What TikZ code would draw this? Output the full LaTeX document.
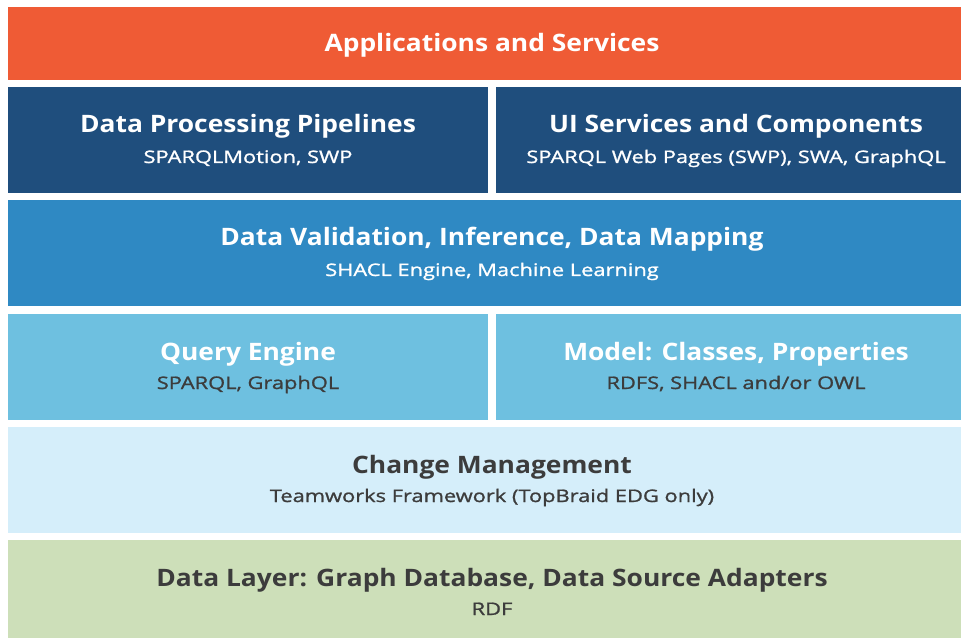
\documentclass[tikz,border=0pt]{standalone}
\usepackage{fontspec}
\setmainfont{Open Sans}
\newfontfamily\titlefont[FakeStretch=1.10]{Open Sans Bold}
\newfontfamily\subfont[FakeStretch=1.26, FakeBold=1.2]{Open Sans}
\definecolor{apporange}{HTML}{EF5B35}
\definecolor{darkblue}{HTML}{1F4E7D}
\definecolor{midblue}{HTML}{2F89C3}
\definecolor{lightblue}{HTML}{6EC0E0}
\definecolor{paleblue}{HTML}{D5EEFA}
\definecolor{layergreen}{HTML}{CDDFB9}
\definecolor{darktext}{HTML}{3C3C3C}
\tikzset{
  ttl/.style={anchor=base, inner sep=0pt, font=\titlefont\fontsize{18}{21}\selectfont},
  sub/.style={anchor=base, inner sep=0pt, font=\subfont\fontsize{13}{16}\selectfont},
}
\begin{document}
\begin{tikzpicture}[x=0.75pt, y=-0.75pt]
\useasboundingbox (0,0) rectangle (961,638);
\fill[white] (0,0) rectangle (961,638);
% layer blocks
\fill[apporange]  (8,7)   rectangle (961,80);
\fill[darkblue]   (8,87)  rectangle (488,193);
\fill[darkblue]   (496,87) rectangle (961,193);
\fill[midblue]    (8,200) rectangle (961,306);
\fill[lightblue]  (8,314) rectangle (488,420);
\fill[lightblue]  (496,314) rectangle (961,420);
\fill[paleblue]   (8,427) rectangle (961,533);
\fill[layergreen] (8,540) rectangle (961,638);
% labels
\node[ttl, text=white] (apps) at (492,52) {Applications and Services};
\node[ttl, text=white] (dpp) at (248,133) {Data Processing Pipelines};
\node[sub, text=white] (dpps) at (248,163) {SPARQLMotion, SWP};
\node[ttl, text=white] (ui) at (736,133) {UI Services and Components};
\node[sub, text=white] (uis) at (736,163) {SPARQL Web Pages (SWP), SWA, GraphQL};
\node[ttl, text=white] (val) at (492,246) {Data Validation, Inference, Data Mapping};
\node[sub, text=white] (vals) at (492,276) {SHACL Engine, Machine Learning};
\node[ttl, text=white] (qe) at (248,360) {Query Engine};
\node[sub, text=darktext] (qes) at (248,389) {SPARQL, GraphQL};
\node[ttl, text=white] (mdl) at (736,360) {Model: Classes, Properties};
\node[sub, text=darktext] (mdls) at (736,389) {RDFS, SHACL and/or OWL};
\node[ttl, text=darktext] (chg) at (492,473) {Change Management};
\node[sub, text=darktext] (chgs) at (492,502) {Teamworks Framework (TopBraid EDG only)};
\node[ttl, text=darktext] (dl) at (492,586) {Data Layer: Graph Database, Data Source Adapters};
\node[sub, text=darktext] (dls) at (492,615) {RDF};
\end{tikzpicture}
\end{document}
